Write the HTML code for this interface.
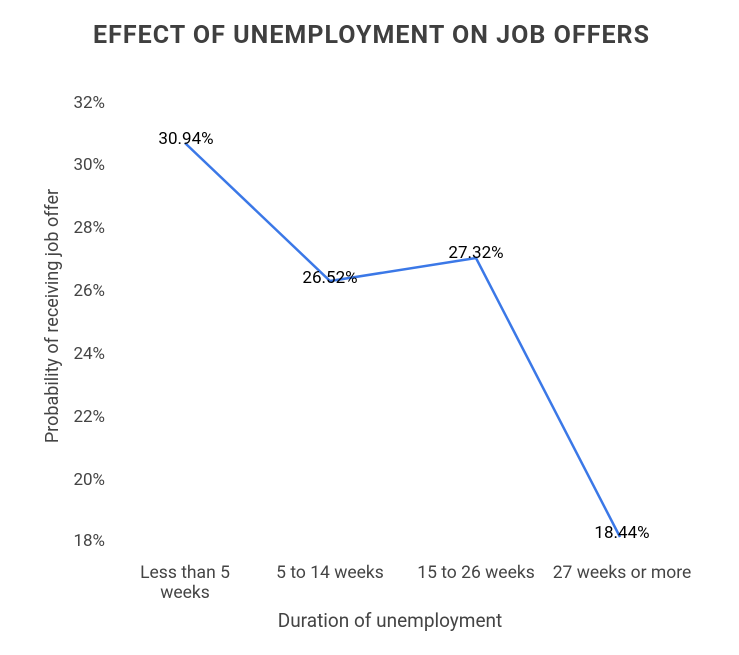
<!DOCTYPE html>
<html><head><style>body{margin:0;background:#fff}</style></head><body>
<svg width="739" height="650" xmlns="http://www.w3.org/2000/svg" font-family="Roboto, 'Liberation Sans', sans-serif">
<text x="371" y="43" text-anchor="middle" font-size="25" font-weight="bold" fill="#3f3f3f" textLength="556">EFFECT OF UNEMPLOYMENT ON JOB OFFERS</text>
<g font-size="17" fill="#444" text-anchor="end">
<text x="105" y="108">32%</text>
<text x="105" y="170">30%</text>
<text x="105" y="233">28%</text>
<text x="105" y="296">26%</text>
<text x="105" y="359">24%</text>
<text x="105" y="422">22%</text>
<text x="105" y="485">20%</text>
<text x="105" y="546">18%</text>
</g>
<text transform="translate(58,316) rotate(-90)" text-anchor="middle" font-size="18" fill="#444">Probability of receiving job offer</text>
<polyline points="185,143 330,281 476,258 620,537" fill="none" stroke="#3b78e7" stroke-width="2.5"/>
<g font-size="17" fill="#000" text-anchor="middle">
<text x="186" y="144">30.94%</text>
<text x="330" y="283">26.52%</text>
<text x="476" y="258">27.32%</text>
<text x="622" y="538">18.44%</text>
</g>
<g font-size="17.5" fill="#444" text-anchor="middle">
<text x="185" y="578">Less than 5</text>
<text x="185" y="598">weeks</text>
<text x="330" y="578">5 to 14 weeks</text>
<text x="476" y="578">15 to 26 weeks</text>
<text x="622" y="578">27 weeks or more</text>
</g>
<text x="390" y="627" text-anchor="middle" font-size="19" fill="#444">Duration of unemployment</text>
</svg>
</body></html>
